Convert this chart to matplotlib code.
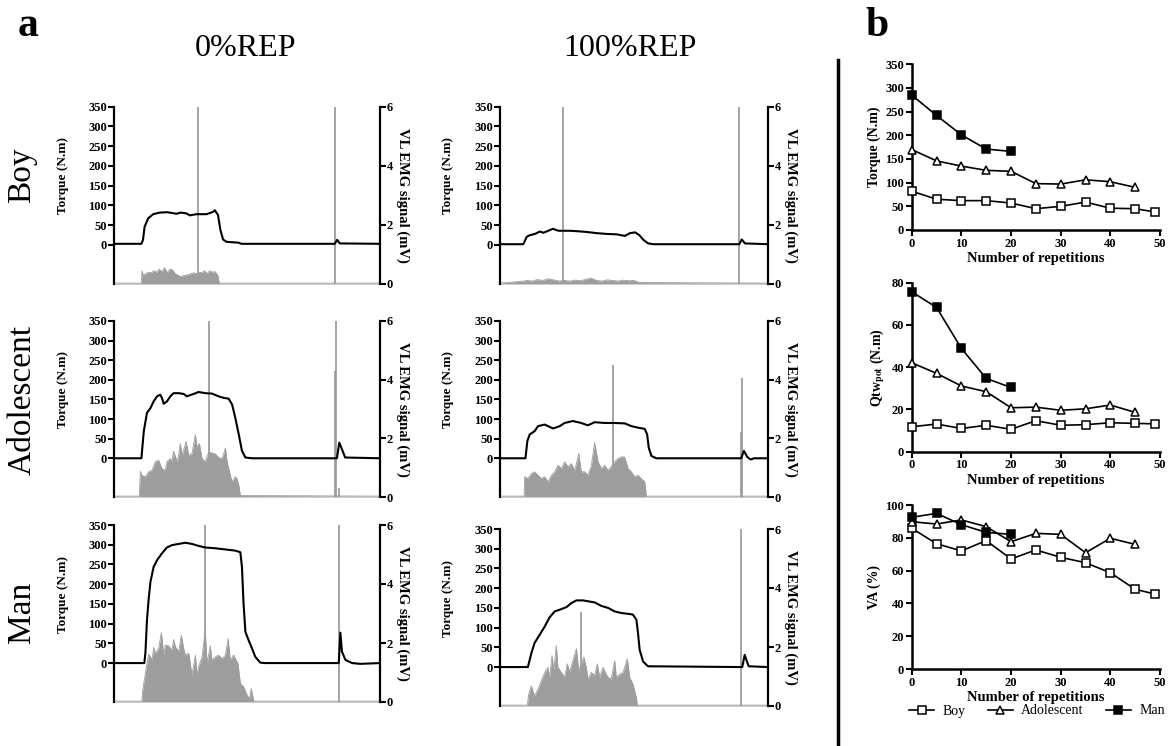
import matplotlib
matplotlib.use("Agg")
import matplotlib.pyplot as plt
from matplotlib.lines import Line2D

plt.rcParams['font.family'] = ['Liberation Serif', 'DejaVu Serif']
plt.rcParams['mathtext.fontset'] = 'stix'

# ---------------- panel a data (time in % of trace window) ----------------
rows = ['Boy', 'Adolescent', 'Man']
cols = ['0%REP', '100%REP']

# Boy 0%REP
boy0_tq_t = [0, 10.3, 10.9, 11.5, 12.8, 14.7, 17.2, 20.0, 23.5, 25.0, 27.2, 28.5, 31.0, 34.8, 37.3, 37.9, 39.1, 40.0, 41.0, 42.3, 46.7, 47.9, 83.0, 83.9, 84.9, 100]
boy0_tq_v = [3, 3, 13, 46, 67, 78, 82, 83, 79, 82, 80, 75, 78, 78, 84, 88, 76, 38, 14, 8, 6, 3, 3, 13, 4, 3]
boy0_emg_t = [0, 10.3, 10.5, 11, 12, 13, 14, 15, 16, 17, 18, 19, 20, 21, 22, 23, 24, 25, 26, 27, 28, 29, 30, 31, 32, 33, 34, 35, 36, 37, 38, 39, 39.6, 100]
boy0_emg_v = [0.03, 0.03, 0.45, 0.3, 0.35, 0.4, 0.38, 0.45, 0.4, 0.5, 0.42, 0.55, 0.38, 0.5, 0.48, 0.35, 0.3, 0.25, 0.28, 0.3, 0.32, 0.35, 0.38, 0.35, 0.4, 0.38, 0.45, 0.35, 0.45, 0.4, 0.42, 0.3, 0.03, 0.03]
boy0_stim_t = [31.6, 83.1]
boy0_stim_v = [6, 6]

# Boy 100%REP
boy1_tq_t = [0, 8.7, 10.0, 11.2, 13.0, 14.9, 16.2, 18.7, 19.7, 21.8, 26.1, 28.6, 32.3, 36.1, 39.8, 43.5, 46.6, 48.5, 50.4, 52.0, 53.5, 55.3, 57.2, 89.3, 90.2, 91.4, 100]
boy1_tq_v = [2, 2, 21, 25, 28, 34, 31, 38, 41, 36, 36, 35, 33, 30, 28, 27, 23, 30, 32, 25, 13, 4, 2, 2, 14, 4, 2]
boy1_emg_t = [0, 9, 10, 12, 14, 16, 18, 20, 22, 24, 26, 28, 30, 32, 34, 36, 38, 40, 42, 44, 46, 48, 50, 52, 100]
boy1_emg_v = [0.03, 0.1, 0.12, 0.1, 0.15, 0.12, 0.18, 0.14, 0.1, 0.12, 0.1, 0.13, 0.11, 0.16, 0.2, 0.12, 0.1, 0.14, 0.12, 0.1, 0.13, 0.11, 0.12, 0.05, 0.03]
boy1_stim_t = [23.4, 89.2]
boy1_stim_v = [6, 6]

# Adolescent 0%REP
ado0_tq_t = [0, 10.3, 11.2, 12.4, 13.7, 14.9, 16.2, 17.4, 18.0, 18.7, 19.9, 21.2, 22.4, 24.3, 26.2, 27.4, 29.9, 31.8, 34.3, 36.8, 39.3, 41.2, 43.1, 44.4, 45.6, 46.9, 48.1, 49.4, 51.9, 83.8, 84.7, 85.7, 86.9, 100]
ado0_tq_v = [0, 0, 69, 116, 128, 145, 158, 162, 154, 139, 145, 158, 166, 166, 164, 158, 164, 169, 166, 165, 158, 154, 152, 137, 103, 61, 19, 2, 0, 0, 40, 23, 2, 0]
ado0_emg_t = [0, 9.5, 9.9, 10.5, 11.8, 13.0, 14.3, 15.5, 16.8, 18.0, 19.3, 19.9, 21.2, 21.8, 22.4, 23.1, 23.7, 24.3, 24.9, 25.6, 26.2, 27.1, 28.1, 29.3, 30.6, 31.2, 32.1, 33.1, 34.3, 35.6, 36.8, 38.1, 39.3, 40.6, 41.9, 42.5, 43.4, 44.4, 45.6, 46.2, 46.9, 47.5, 100]
ado0_emg_v = [0.03, 0.03, 0.88, 0.74, 0.69, 0.86, 0.91, 1.20, 1.25, 0.97, 0.91, 1.20, 1.31, 1.20, 1.56, 1.37, 1.20, 1.42, 1.82, 1.42, 1.59, 1.90, 1.42, 1.48, 2.12, 1.71, 1.82, 1.31, 1.20, 1.53, 1.50, 1.47, 1.35, 1.30, 1.67, 1.20, 0.86, 0.52, 0.69, 0.63, 0.41, 0.05, 0.03]
ado0_stim_t = [35.8, 83.5, 83.2, 84.5]
ado0_stim_v = [6, 6, 4.3, 0.3]

# Adolescent 100%REP
ado1_tq_t = [0, 9.5, 10.2, 11.1, 12.9, 14.2, 16.7, 17.9, 19.8, 22.3, 24.1, 27.2, 30.3, 32.8, 35.3, 39.1, 42.8, 46.5, 49.0, 51.5, 54.0, 54.9, 55.5, 56.5, 58.3, 90.0, 91.0, 92.3, 93.5, 94.8, 100]
ado1_tq_v = [0, 0, 44, 61, 69, 82, 86, 82, 76, 82, 90, 95, 90, 84, 92, 90, 90, 89, 82, 78, 75, 61, 27, 6, 0, 0, 19, 3, -3, 0, 0]
ado1_emg_t = [0, 9.0, 9.2, 10.4, 11.7, 12.9, 14.2, 15.4, 16.7, 17.9, 19.2, 20.4, 21.6, 22.9, 24.1, 25.4, 26.6, 27.9, 29.4, 30.3, 31.6, 32.8, 34.1, 35.3, 36.6, 37.8, 39.1, 40.3, 41.5, 42.8, 44.0, 45.3, 46.5, 47.8, 49.0, 50.2, 51.5, 52.7, 54.0, 54.6, 100]
ado1_emg_v = [0.03, 0.03, 0.69, 0.63, 0.80, 0.86, 0.74, 0.63, 0.69, 0.52, 0.74, 0.86, 1.08, 0.97, 1.20, 1.03, 1.14, 0.91, 1.48, 0.86, 0.86, 0.74, 1.08, 1.85, 1.20, 0.97, 1.08, 0.91, 1.03, 1.20, 1.31, 1.37, 1.36, 0.97, 0.86, 0.69, 0.74, 0.63, 0.52, 0.03, 0.03]
ado1_stim_t = [42.2, 90.3, 89.8]
ado1_stim_v = [4.5, 4.07, 2.2]

# Man 0%REP
man0_tq_t = [0, 11.4, 11.8, 12.4, 13.0, 13.7, 14.9, 16.2, 18.0, 19.9, 21.8, 24.3, 26.8, 29.3, 31.8, 34.3, 38.1, 41.9, 45.6, 47.5, 48.1, 48.7, 49.4, 50.6, 51.9, 53.1, 55.0, 56.9, 84.5, 85.1, 85.7, 87.0, 89.5, 92.6, 100]
man0_tq_v = [0, 0, 25, 109, 160, 206, 244, 261, 278, 293, 299, 302, 305, 302, 297, 293, 291, 288, 285, 281, 244, 151, 79, 58, 37, 16, 1, 0, 0, 77, 29, 8, 0, -2, 0]
man0_emg_t = [0, 10.5, 10.8, 11.8, 13.0, 13.7, 14.3, 14.9, 15.5, 16.8, 17.8, 18.7, 19.3, 20.6, 21.8, 22.4, 23.1, 24.3, 25.3, 26.2, 26.8, 28.1, 29.3, 30.6, 31.2, 31.8, 33.1, 34.3, 35.0, 36.2, 36.8, 38.1, 39.3, 40.6, 41.9, 42.9, 43.7, 45.0, 45.9, 46.6, 47.5, 48.7, 50.0, 50.9, 51.6, 52.5, 100]
man0_emg_v = [0.03, 0.03, 0.40, 0.97, 1.62, 1.53, 1.42, 1.85, 1.65, 1.82, 2.35, 1.59, 1.93, 1.90, 1.76, 2.12, 1.87, 1.71, 2.26, 1.81, 1.59, 1.65, 0.91, 1.59, 0.91, 1.20, 1.53, 2.41, 1.30, 1.90, 1.42, 1.53, 1.59, 1.47, 1.59, 2.15, 1.42, 1.59, 1.42, 1.31, 0.63, 0.52, 0.24, 0.10, 0.46, 0.03, 0.03]
man0_stim_t = [34.1, 84.5]
man0_stim_v = [6, 6]

# Man 100%REP
man1_tq_t = [0, 10.4, 11.7, 12.9, 14.8, 16.7, 18.5, 20.4, 22.9, 24.8, 26.6, 28.5, 31.0, 33.5, 35.3, 37.8, 40.3, 42.8, 45.3, 47.8, 49.6, 50.9, 51.5, 52.1, 53.4, 55.2, 90.4, 91.3, 91.9, 92.8, 100]
man1_tq_v = [0, 0, 35, 61, 82, 103, 126, 141, 147, 152, 162, 169, 169, 166, 164, 155, 150, 141, 137, 135, 133, 120, 86, 44, 14, 2, 0, 31, 19, 2, 0]
man1_emg_t = [0, 10.2, 10.7, 11.7, 12.9, 14.2, 15.4, 16.7, 17.9, 18.5, 19.4, 20.1, 21.0, 21.6, 22.9, 24.1, 25.1, 26.0, 27.2, 28.5, 29.4, 31.3, 32.2, 32.8, 34.1, 35.3, 36.3, 37.2, 38.4, 39.3, 40.3, 41.5, 42.8, 43.4, 44.7, 45.9, 47.5, 48.4, 49.6, 50.9, 51.2, 100]
man1_emg_v = [0.03, 0.03, 0.40, 0.68, 0.34, 0.57, 0.86, 1.14, 1.31, 0.97, 1.71, 1.20, 2.05, 1.31, 1.14, 0.97, 1.43, 1.14, 1.54, 1.94, 1.20, 1.66, 1.31, 0.91, 1.14, 1.03, 1.43, 0.97, 1.31, 1.14, 0.97, 0.91, 1.54, 0.97, 1.08, 1.14, 1.60, 0.97, 0.74, 0.29, 0.03, 0.03]
man1_stim_t = [30.3, 90.0]
man1_stim_v = [3.2, 6]

panel_data = [
    [(boy0_tq_t, boy0_tq_v, boy0_emg_t, boy0_emg_v, boy0_stim_t, boy0_stim_v),
     (boy1_tq_t, boy1_tq_v, boy1_emg_t, boy1_emg_v, boy1_stim_t, boy1_stim_v)],
    [(ado0_tq_t, ado0_tq_v, ado0_emg_t, ado0_emg_v, ado0_stim_t, ado0_stim_v),
     (ado1_tq_t, ado1_tq_v, ado1_emg_t, ado1_emg_v, ado1_stim_t, ado1_stim_v)],
    [(man0_tq_t, man0_tq_v, man0_emg_t, man0_emg_v, man0_stim_t, man0_stim_v),
     (man1_tq_t, man1_tq_v, man1_emg_t, man1_emg_v, man1_stim_t, man1_stim_v)],
]

torque_ticks = [0, 50, 100, 150, 200, 250, 300, 350]
emg_ticks = [0, 2, 4, 6]

# ---------------- panel b data ----------------
boy_x = [0, 5, 10, 15, 20, 25, 30, 35, 40, 45, 49]
ado_x = [0, 5, 10, 15, 20, 25, 30, 35, 40, 45]
man_x = [0, 5, 10, 15, 20]

boy_torque = [82, 65, 62, 62, 57, 45, 50, 59, 46, 45, 38]
ado_torque = [170, 146, 135, 126, 124, 98, 97, 106, 102, 90]
man_torque = [285, 242, 201, 171, 166]

boy_qtw = [11.8, 13.1, 11.0, 12.5, 10.6, 14.7, 12.5, 12.8, 13.7, 13.4, 13.2]
ado_qtw = [42.1, 37.1, 31.1, 28.4, 20.8, 21.1, 19.6, 20.3, 22.1, 18.6]
man_qtw = [75.7, 68.3, 48.9, 34.7, 30.4]

boy_va = [85.8, 76.4, 72.0, 78.3, 67.1, 72.6, 68.1, 64.8, 58.7, 48.6, 45.7]
ado_va = [89.8, 88.4, 90.9, 86.8, 77.6, 82.7, 82.1, 70.9, 79.7, 76.0]
man_va = [92.5, 94.9, 88.0, 83.3, 82.1]

# ---------------- figure ----------------
W, H = 1173, 746
fig = plt.figure(figsize=(W / 100, H / 100), dpi=100)

GRAY = '#9d9d9d'
TQ_BOTTOM = -98.7
TICK_FS = 9

def fx(px):
    return px / W

def fy(py):
    return 1 - py / H

col_left = [114, 500]
col_right = [380, 768]
row_top = [[106.7, 106.7], [321, 321], [525, 529]]
row_bot = [[284, 284], [497, 497], [702, 706]]

for r in range(3):
    for c in range(2):
        tq_t, tq_v, emg_t, emg_v, st_t, st_v = panel_data[r][c]
        l, rr = col_left[c], col_right[c]
        t, b = row_top[r][c], row_bot[r][c]
        ax = fig.add_axes([fx(l), fy(b), (rr - l) / W, (b - t) / H])
        tx = ax.twinx()

        # EMG (right axis)
        ax.set_xlim(0, 100)
        ax.set_ylim(0, 6)
        ax.fill_between(emg_t, 0, emg_v, color=GRAY, lw=0)
        ax.plot(emg_t, emg_v, color=GRAY, lw=0.6)
        ax.vlines(st_t, 0, st_v, color=GRAY, lw=1.3)
        for s in ['left', 'top', 'bottom', 'right']:
            ax.spines[s].set_visible(False)
        ax.yaxis.tick_right()
        ax.yaxis.set_label_position('right')
        ax.set_yticks(emg_ticks)
        ax.set_xticks([])
        ax.tick_params(axis='y', which='both', left=False, labelleft=False,
                       right=True, labelright=True,
                       direction='out', length=4, width=1.5, labelsize=TICK_FS, pad=1)
        for lab in ax.get_yticklabels():
            lab.set_fontweight('bold')
        ax.set_ylabel('VL EMG signal (mV)', rotation=270, fontsize=10.5, fontweight='bold')
        ax.yaxis.set_label_coords(1.11, 0.5)

        # Torque (left axis)
        tx.set_xlim(0, 100)
        tx.set_ylim(TQ_BOTTOM, 350)
        tx.plot(tq_t, tq_v, color='black', lw=1.5)
        for s in ['top', 'bottom']:
            tx.spines[s].set_visible(False)
        tx.spines['left'].set_visible(True)
        tx.spines['left'].set_linewidth(1.6)
        tx.spines['right'].set_visible(True)
        tx.spines['right'].set_linewidth(1.6)
        tx.yaxis.tick_left()
        tx.yaxis.set_label_position('left')
        tx.set_yticks(torque_ticks)
        tx.tick_params(axis='y', which='both', right=False, labelright=False,
                       left=True, labelleft=True,
                       direction='out', length=4, width=1.5, labelsize=TICK_FS, pad=1)
        for lab in tx.get_yticklabels():
            lab.set_fontweight('bold')
        tx.set_ylabel('Torque (N.m)', fontsize=9.5, fontweight='bold')
        tx.yaxis.set_label_coords(-0.17, 0.61)

# row and column labels
row_y = [175, 400, 612]
for name, yy in zip(rows, row_y):
    fig.text(fx(22), fy(yy), name, rotation=90, fontsize=24, ha='center', va='center')
fig.text(fx(245), fy(48), cols[0], fontsize=23, ha='center', va='center')
fig.text(fx(630), fy(48), cols[1], fontsize=23, ha='center', va='center')
fig.text(fx(28), fy(26), 'a', fontsize=30, fontweight='bold', ha='center', va='center')
fig.text(fx(877), fy(26), 'b', fontsize=30, fontweight='bold', ha='center', va='center')

# separator
fig.add_artist(Line2D([fx(838), fx(838)], [0, fy(60)], color='black', lw=2.5))

# ---------------- panel b ----------------
def style_b(ax, yticks, ylabel):
    ax.set_xlim(0, 50)
    ax.set_xticks([0, 10, 20, 30, 40, 50])
    ax.set_yticks(yticks)
    ax.set_ylim(yticks[0], yticks[-1])
    for s in ['top', 'right']:
        ax.spines[s].set_visible(False)
    for s in ['left', 'bottom']:
        ax.spines[s].set_linewidth(1.8)
    ax.tick_params(direction='out', length=4, width=1.5, labelsize=TICK_FS, pad=1.5)
    for lab in ax.get_xticklabels() + ax.get_yticklabels():
        lab.set_fontweight('bold')
    ax.set_ylabel(ylabel, fontsize=10, fontweight='bold', labelpad=3)
    ax.set_xlabel('Number of repetitions', fontsize=10.5, fontweight='bold', labelpad=2)

def plot_groups(ax, by, ay, my):
    h1, = ax.plot(boy_x, by, '-s', color='black', mfc='white', mec='black', ms=5.5, mew=1.1, lw=1.2, clip_on=False, zorder=3, label='Boy')
    h2, = ax.plot(ado_x, ay, '-^', color='black', mfc='white', mec='black', ms=6, mew=1.1, lw=1.2, clip_on=False, zorder=3, label='Adolescent')
    h3, = ax.plot(man_x, my, '-s', color='black', mfc='black', mec='black', ms=5.5, mew=1.1, lw=1.2, clip_on=False, zorder=4, label='Man')
    return [h1, h2, h3]

bl, br = 911.7, 1160
b1 = fig.add_axes([fx(bl), fy(230), (br - bl) / W, (230 - 64.3) / H])
plot_groups(b1, boy_torque, ado_torque, man_torque)
style_b(b1, [0, 50, 100, 150, 200, 250, 300, 350], 'Torque (N.m)')

b2 = fig.add_axes([fx(bl), fy(451.7), (br - bl) / W, (451.7 - 282.7) / H])
plot_groups(b2, boy_qtw, ado_qtw, man_qtw)
style_b(b2, [0, 20, 40, 60, 80], r'Qtw$_{\mathbf{pot}}$ (N.m)')

b3 = fig.add_axes([fx(bl), fy(669), (br - bl) / W, (669 - 505) / H])
handles = plot_groups(b3, boy_va, ado_va, man_va)
style_b(b3, [0, 20, 40, 60, 80, 100], 'VA (%)')

fig.legend(handles=handles, loc='center', bbox_to_anchor=(fx(1037), fy(711)), ncol=3,
           frameon=False, fontsize=10, handlelength=1.8, columnspacing=1.6, handletextpad=0.6)

fig.savefig('out.png', dpi=100)
